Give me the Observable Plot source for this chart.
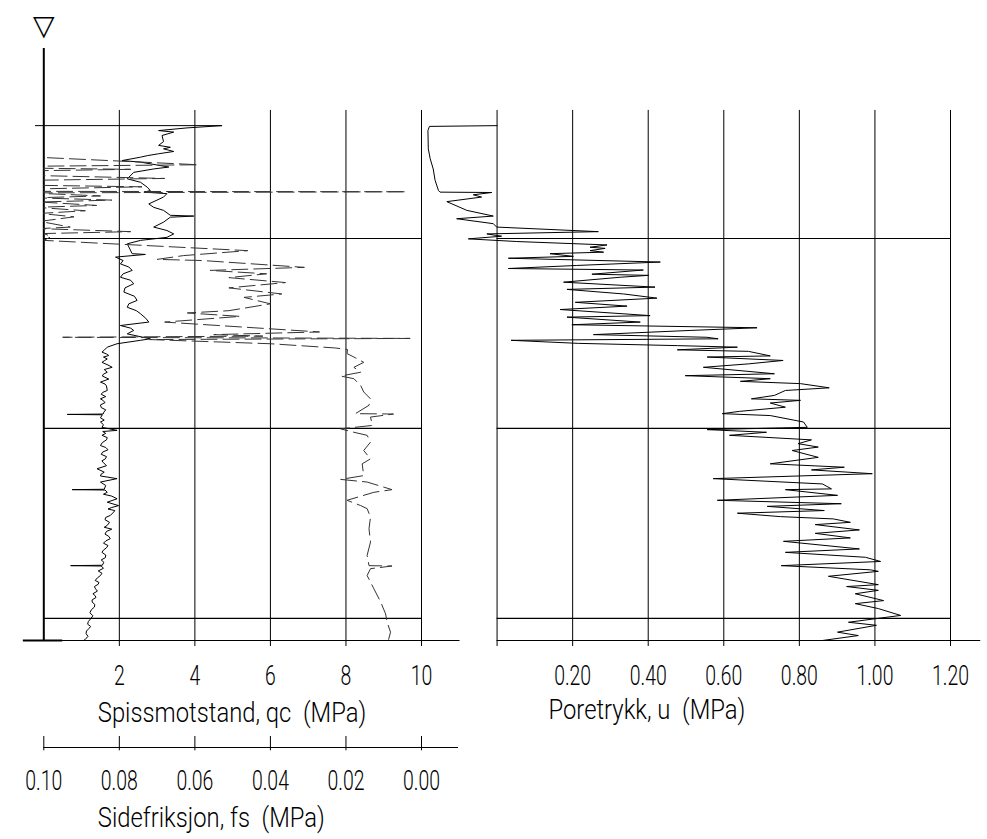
<!DOCTYPE html>
<html><head><meta charset="utf-8">
<script src="https://cdn.jsdelivr.net/npm/d3@7"></script>
<script src="https://cdn.jsdelivr.net/npm/@observablehq/plot@0.6"></script>
<style>
html,body{margin:0;background:#fff;}
#wrap{position:relative;width:987px;height:839px;overflow:hidden;background:#fff;}
#wrap svg{position:absolute;}
</style></head><body><div id="wrap"></div>
<script>
// ---------- data (depth in m, values in MPa) ----------
const depthEnd = 15.58;
const depthGrid = [5, 10, 15];
const qcTicks = [2, 4, 6, 8, 10];
const fsTicks = [0.10, 0.08, 0.06, 0.04, 0.02, 0.00];
const uTicks = [0, 0.2, 0.4, 0.6, 0.8, 1.0, 1.2];

const qcDepth = [2.03,2.03,2.09,2.16,2.20,2.29,2.45,2.55,2.60,2.64,2.71,2.77,2.82,2.86,2.95,2.99,3.12,3.17,3.26,3.43,3.52,3.65,3.74,3.78,3.82,3.91,4.09,4.18,4.26,4.39,4.41,4.44,4.57,4.70,4.79,4.88,4.97,5.05,5.14,5.40,5.42,5.49,5.58,5.67,5.75,5.84,5.93,6.02,6.10,6.19,6.30,6.41,6.52,6.63,6.72,6.81,6.90,6.98,7.10,7.20,7.29,7.36,7.42,7.51,7.64,7.68,7.77,7.86,7.94,7.99,8.04,8.08,8.12,8.17,8.22,8.26,8.33,8.39,8.45,8.52,8.57,8.62,8.70,8.78,8.83,8.88,9.00,9.05,9.10,9.16,9.22,9.27,9.32,9.38,9.45,9.51,9.57,9.62,9.63,9.64,9.72,9.78,9.83,9.90,9.97,10.05,10.08,10.13,10.18,10.24,10.30,10.37,10.45,10.50,10.56,10.62,10.68,10.74,10.80,10.85,10.90,10.98,11.06,11.15,11.20,11.25,11.32,11.41,11.50,11.60,11.61,11.62,11.68,11.73,11.78,11.85,11.94,12.03,12.08,12.12,12.16,12.20,12.29,12.34,12.40,12.47,12.55,12.60,12.65,12.71,12.78,12.84,12.90,12.96,13.02,13.08,13.14,13.20,13.26,13.33,13.40,13.46,13.52,13.60,13.61,13.62,13.68,13.75,13.81,13.87,13.93,14.00,14.05,14.10,14.16,14.22,14.28,14.35,14.40,14.45,14.51,14.57,14.63,14.70,14.77,14.85,14.93,15.01,15.08,15.15,15.21,15.27,15.33,15.40,15.47,15.55,15.58];
const qcValue = [0,4.72,3.79,3.04,3.44,3.13,3.17,3.04,3.35,3.17,3.44,3.04,2.74,2.56,2.07,2.56,3.31,2.91,2.38,2.21,2.56,2.74,2.82,2.65,3.26,3.17,2.78,2.91,3.17,3.35,3.97,3.35,3.17,2.91,3.26,3.44,3.26,2.56,2.21,2.34,2.69,1.90,2.10,2.03,2.25,2.34,2.10,2.03,2.30,2.38,2.15,2.12,2.40,2.47,2.25,2.21,2.45,2.56,2.70,2.78,2.03,2.30,2.38,2.21,2.82,2.56,1.94,1.68,1.60,1.54,1.66,1.72,1.58,1.68,1.60,1.54,1.70,1.81,1.60,1.68,1.58,1.55,1.72,1.50,1.62,1.66,1.68,1.56,1.52,1.64,1.50,1.58,1.62,1.50,1.52,1.64,1.59,1.57,0.62,1.55,1.50,1.60,1.50,1.58,1.54,1.94,1.56,1.64,1.54,1.68,1.66,1.55,1.50,1.64,1.70,1.56,1.52,1.66,1.63,1.54,1.58,1.66,1.41,1.60,1.52,1.50,1.94,1.50,1.64,1.60,0.75,1.62,1.68,1.58,1.80,1.94,1.68,1.98,1.80,1.70,1.88,1.85,1.76,1.64,1.62,1.74,1.68,1.60,1.80,1.66,1.62,1.72,1.76,1.64,1.58,1.70,1.66,1.58,1.54,1.64,1.63,1.52,1.59,1.55,0.71,1.52,1.58,1.44,1.54,1.50,1.42,1.36,1.46,1.44,1.34,1.37,1.42,1.30,1.36,1.38,1.28,1.28,1.35,1.34,1.26,1.22,1.30,1.24,1.18,1.16,1.24,1.19,1.13,1.12,1.17,1.10,1.05];

const fsDepth = [2.03,2.84,2.86,3.06,3.10,3.15,3.18,3.22,3.34,3.42,3.47,3.60,3.64,3.70,3.76,3.77,3.80,3.88,3.93,3.99,4.04,4.13,4.18,4.27,4.34,4.43,4.55,4.70,4.74,4.82,4.87,4.95,5.05,5.32,5.45,5.55,5.58,5.76,5.84,5.93,6.03,6.16,6.30,6.46,6.55,6.72,6.90,6.96,7.05,7.20,7.46,7.53,7.57,7.60,7.63,7.66,7.77,7.88,7.92,8.03,8.12,8.26,8.39,8.52,8.62,8.69,8.87,9.04,9.22,9.39,9.61,9.62,9.70,9.92,10.01,10.10,10.18,10.36,10.58,10.80,10.93,11.24,11.34,11.41,11.61,11.68,11.89,12.03,12.11,12.33,12.64,12.99,13.34,13.61,13.62,13.69,13.87,14.22,14.57,14.88,15.10,15.36,15.55];
const fsValue = [0.12,0.12,0.102,0.059,0.104,0.102,0.077,0.104,0.103,0.068,0.104,0.102,0.074,0.104,0.102,0.004,0.104,0.085,0.102,0.082,0.101,0.086,0.102,0.089,0.101,0.092,0.101,0.093,0.101,0.077,0.100,0.098,0.100,0.046,0.063,0.070,0.058,0.031,0.056,0.041,0.051,0.036,0.051,0.037,0.047,0.040,0.051,0.062,0.048,0.068,0.027,0.055,0.042,0.095,0.003,0.072,0.040,0.023,0.0196,0.0197,0.0179,0.0153,0.0179,0.0161,0.0214,0.0179,0.0161,0.0153,0.0135,0.0139,0.0175,0.0074,0.0135,0.0130,0.0214,0.0179,0.0144,0.0135,0.0153,0.0135,0.0157,0.0153,0.0214,0.0144,0.0078,0.0126,0.0197,0.0161,0.0144,0.0135,0.0139,0.0135,0.0144,0.0139,0.0078,0.0135,0.0144,0.0126,0.0108,0.0095,0.0091,0.0082,0.0087];

const uDepth = [2.03,2.05,2.16,2.64,2.90,3.17,3.47,3.74,3.78,3.79,3.85,3.91,4.03,4.26,4.41,4.48,4.61,4.70,4.82,4.88,4.94,5.01,5.08,5.17,5.23,5.26,5.32,5.36,5.40,5.47,5.52,5.62,5.71,5.79,5.83,5.94,5.97,6.02,6.15,6.28,6.34,6.46,6.57,6.68,6.78,6.87,7.03,7.07,7.20,7.27,7.35,7.42,7.53,7.60,7.64,7.68,7.76,7.82,7.86,7.93,7.97,8.09,8.12,8.21,8.30,8.39,8.56,8.61,8.69,8.76,8.82,8.93,9.00,9.13,9.22,9.26,9.33,9.44,9.55,9.61,9.66,9.83,9.97,10.03,10.10,10.18,10.30,10.40,10.49,10.58,10.76,10.93,11.02,11.09,11.19,11.32,11.46,11.59,11.61,11.76,11.89,11.98,12.05,12.16,12.23,12.32,12.38,12.47,12.53,12.67,12.76,12.88,12.97,13.17,13.26,13.39,13.50,13.61,13.72,13.76,13.89,14.11,14.16,14.26,14.35,14.53,14.61,14.74,14.92,15.10,15.18,15.36,15.45,15.58];
const uValue = [0,-0.179,-0.183,-0.182,-0.177,-0.169,-0.164,-0.155,-0.151,-0.014,-0.063,-0.041,-0.133,-0.080,-0.010,-0.107,-0.010,-0.001,0.268,-0.027,0.012,-0.076,0.052,0.291,0.246,0.286,0.246,0.282,0.140,0.202,0.030,0.432,0.211,0.030,0.387,0.251,0.401,0.326,0.176,0.418,0.185,0.335,0.423,0.207,0.344,0.167,0.405,0.185,0.379,0.198,0.688,0.511,0.255,0.555,0.585,0.037,0.215,0.477,0.636,0.477,0.665,0.723,0.556,0.757,0.665,0.546,0.734,0.498,0.723,0.644,0.803,0.879,0.763,0.734,0.673,0.803,0.723,0.763,0.641,0.596,0.723,0.811,0.821,0.556,0.713,0.615,0.832,0.797,0.850,0.781,0.850,0.723,0.919,0.832,0.993,0.572,0.861,0.885,0.763,0.901,0.583,0.911,0.715,0.866,0.636,0.750,0.890,0.935,0.842,0.959,0.842,0.935,0.758,0.959,0.763,0.975,1.015,0.752,0.988,1.009,0.877,1.009,0.925,1.009,0.948,1.023,0.948,1.009,1.068,0.930,1.004,0.901,0.956,0.861];

const qcTitle = "Spissmotstand, qc  (MPa)";
const fsTitle = "Sidefriksjon, fs  (MPa)";
const uTitle = "Poretrykk, u  (MPa)";

// ---------- layout ----------
const FONT = 'Roboto, "Liberation Sans", sans-serif';
const gridTop = 1.63;
const baseStyle = {background: "transparent", fontFamily: FONT, fontSize: "27px", fontWeight: 300, color: "#000", overflow: "visible"};
const wrap = document.getElementById("wrap");
function place(el, left, top) { el.style.left = left + "px"; el.style.top = top + "px"; wrap.appendChild(el); }
const rows = (D, V) => D.map((d, i) => ({depth: d, value: V[i]}));
const fmt2 = d3.format(".2f");
const yScale = {domain: [0, depthEnd], reverse: true, axis: null};

const leftPlot = Plot.plot({
  width: 470, height: 740, marginLeft: 43.3, marginRight: 49, marginTop: 48, marginBottom: 100,
  style: baseStyle,
  x: {domain: [0, 10], axis: null},
  y: yScale,
  marks: [
    Plot.ruleX(qcTicks, {y1: gridTop, y2: depthEnd, stroke: "#000", strokeWidth: 1}),
    Plot.ruleY(depthGrid, {x1: 0, x2: 10, stroke: "#000", strokeWidth: 1.2}),
    Plot.ruleY([depthEnd], {x1: -0.54, x2: 11.02, stroke: "#000", strokeWidth: 1}),
    Plot.ruleY([depthEnd], {x1: -0.54, x2: 0.5, stroke: "#000", strokeWidth: 2}),
    Plot.ruleX([0], {y1: 0, y2: depthEnd, stroke: "#000", strokeWidth: 2}),
    Plot.ruleY([qcDepth[0]], {x1: -0.22, x2: 0, stroke: "#000"}),
    Plot.line(rows(qcDepth, qcValue), {x: "value", y: "depth", stroke: "#000", strokeWidth: 1}),
    Plot.axisX(qcTicks, {anchor: "bottom", tickSize: 6, tickPadding: 19, tickFormat: d => String(d), label: null}),
    Plot.text([qcTitle], {text: d => d, frameAnchor: "bottom-left", dx: 54, dy: 81, textAnchor: "start", fontSize: 28}),
    Plot.text(["▽"], {text: d => d, x: () => 0, frameAnchor: "top", dy: -33, fontSize: 28, fontFamily: "DejaVu Sans", fontWeight: 400})
  ]
});
place(leftPlot, 0, 0);

const fsPlot = Plot.plot({
  width: 470, height: 740, marginLeft: 43.3, marginRight: 49, marginTop: 48, marginBottom: 100,
  style: baseStyle,
  x: {domain: [0.1, 0], axis: null},
  y: yScale,
  marks: [
    Plot.line(rows(fsDepth, fsValue), {x: "value", y: "depth", stroke: "#333", strokeWidth: 1, strokeDasharray: "16,6", clip: true})
  ]
});
place(fsPlot, 0, 0);

const fsAxis = Plot.plot({
  width: 470, height: 139, marginLeft: 43.3, marginRight: 49, marginTop: 36, marginBottom: 92,
  style: baseStyle,
  x: {domain: [0.1, 0], axis: null},
  y: {domain: [0, 1], axis: null},
  marks: [
    Plot.ruleY([0], {x1: 0.1, x2: -0.0098, stroke: "#000"}),
    Plot.ruleX(fsTicks, {y1: -0.3, y2: 1, stroke: "#000"}),
    Plot.text(fsTicks, {x: d => d, text: d => fmt2(d), frameAnchor: "bottom", dy: 42}),
    Plot.text([fsTitle], {text: d => d, frameAnchor: "bottom-left", dx: 54, dy: 79, textAnchor: "start", fontSize: 28})
  ]
});
place(fsAxis, 0, 700);

const rightPlot = Plot.plot({
  width: 587, height: 740, marginLeft: 21, marginRight: 37, marginTop: 48, marginBottom: 100,
  style: baseStyle,
  x: {domain: [-0.2, 1.2], axis: null},
  y: yScale,
  marks: [
    Plot.ruleX(uTicks, {y1: gridTop, y2: depthEnd, stroke: "#000", strokeWidth: 1}),
    Plot.ruleY(depthGrid, {x1: 0, x2: 1.2, stroke: "#000", strokeWidth: 1.2}),
    Plot.ruleY([depthEnd], {x1: 0, x2: 1.28, stroke: "#000", strokeWidth: 1}),
    Plot.line(rows(uDepth, uValue), {x: "value", y: "depth", stroke: "#000", strokeWidth: 1}),
    Plot.axisX(uTicks, {anchor: "bottom", tickSize: 6, tickPadding: 19, tickFormat: d => d === 0 ? "" : fmt2(d), label: null}),
    Plot.text([uTitle], {text: d => d, frameAnchor: "bottom-left", dx: 127, dy: 78, textAnchor: "start", fontSize: 28})
  ]
});
place(rightPlot, 400, 0);

// condense the labels horizontally, like the narrow drafting font of the original
document.querySelectorAll("#wrap text").forEach(t => {
  if (t.textContent === "▽") return;
  const len = t.getComputedTextLength();
  if (len > 0) {
    const isTitle = getComputedStyle(t).textAnchor === "start";
    t.setAttribute("textLength", (len * (isTitle ? 0.85 : 0.72)).toFixed(1));
    t.setAttribute("lengthAdjust", "spacingAndGlyphs");
  }
});
</script>
</body></html>
